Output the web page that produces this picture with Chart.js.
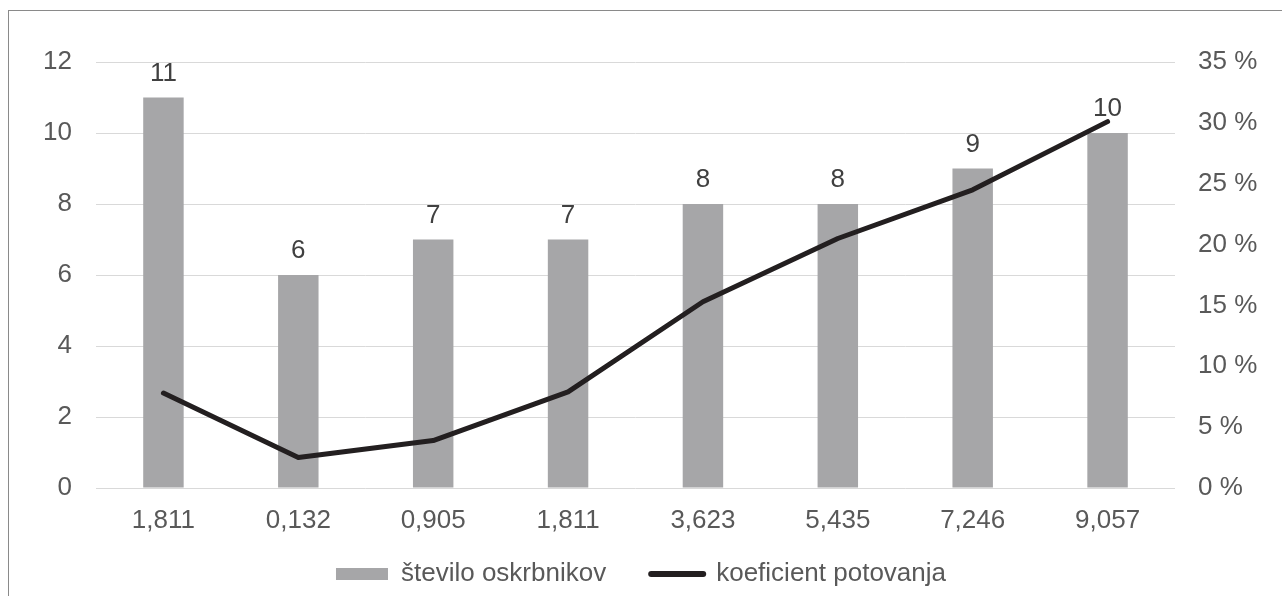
<!DOCTYPE html>
<html>
<head>
<meta charset="utf-8">
<script src="https://cdn.jsdelivr.net/npm/chart.js@4.4.0/dist/chart.umd.min.js"></script>
<style>
    html, body { margin: 0; padding: 0; background: #fff; }
    #wrap { position: relative; width: 1282px; height: 596px; overflow: hidden; }
    #frame { position: absolute; left: 8px; top: 10px; width: 1300px; height: 600px;
             border-left: 1px solid #8a8a8a; border-top: 1px solid #8a8a8a; }
    #chart { position: absolute; left: 0; top: 0; }
</style>
</head>
<body>
<div id="wrap">
    <div id="frame"></div>
    <canvas id="chart" width="1282" height="596"></canvas>
</div>
<script>
const categories = ['1,811', '0,132', '0,905', '1,811', '3,623', '5,435', '7,246', '9,057'];
const steviloOskrbnikov = [11, 6, 7, 7, 8, 8, 9, 10];
const koeficientPotovanja = [7.8, 2.5, 3.9, 7.9, 15.3, 20.5, 24.5, 30.1]; // in %

const FONT = '"Liberation Sans", Arial, sans-serif';

// draws the value above every bar
const barLabels = {
    id: 'barLabels',
    afterDatasetsDraw(chart) {
        const ctx = chart.ctx;
        const meta = chart.getDatasetMeta(0);
        ctx.save();
        ctx.font = '26px ' + FONT;
        ctx.fillStyle = '#404040';
        ctx.textAlign = 'center';
        ctx.textBaseline = 'middle';
        meta.data.forEach((bar, i) => {
            ctx.fillText(steviloOskrbnikov[i], bar.x, bar.y - 24);
        });
        ctx.restore();
    }
};

// the legend needs wide item spacing (padding) but sits close under the axis labels,
// so pull it up a bit after layout
const legendShift = {
    id: 'legendShift',
    afterLayout(chart) {
        if (chart.legend) {
            chart.legend.top -= 22;
            chart.legend.bottom -= 22;
        }
    }
};

const ctx = document.getElementById('chart').getContext('2d');
new Chart(ctx, {
    type: 'bar',
    data: {
        labels: categories,
        datasets: [{
            label: 'število oskrbnikov',
            data: steviloOskrbnikov,
            backgroundColor: '#a6a6a8',
            barPercentage: 0.3,
            categoryPercentage: 1,
            yAxisID: 'y',
            order: 1
        }, {
            type: 'line',
            label: 'koeficient potovanja',
            data: koeficientPotovanja,
            borderColor: '#231f20',
            backgroundColor: '#231f20',
            borderWidth: 5,
            borderCapStyle: 'round',
            borderJoinStyle: 'round',
            pointRadius: 0,
            tension: 0,
            yAxisID: 'y1',
            order: 0
        }]
    },
    options: {
        responsive: false,
        animation: false,
        layout: { padding: { top: 62, left: 0, right: 0, bottom: -23 } },
        scales: {
            x: {
                grid: { display: false },
                border: { display: false },
                ticks: { padding: 9, color: '#595959', font: { family: FONT, size: 26 } },
                afterFit: scale => { scale.height = 50; }
            },
            y: {
                position: 'left',
                min: 0,
                max: 12,
                ticks: { stepSize: 2, padding: 24, color: '#595959', font: { family: FONT, size: 26 } },
                grid: { color: '#d9d9d9', lineWidth: 1, drawTicks: false },
                border: { display: false },
                afterFit: scale => { scale.width = 96; }
            },
            y1: {
                position: 'right',
                min: 0,
                max: 35,
                ticks: {
                    stepSize: 5,
                    padding: 23,
                    color: '#595959',
                    font: { family: FONT, size: 26 },
                    callback: v => v + ' %'
                },
                grid: { drawOnChartArea: false, drawTicks: false },
                border: { display: false },
                afterFit: scale => { scale.width = 107; }
            }
        },
        plugins: {
            tooltip: { enabled: false },
            legend: {
                position: 'bottom',
                labels: {
                    color: '#595959',
                    font: { family: FONT, size: 26 },
                    usePointStyle: true,
                    pointStyleWidth: 52,
                    boxHeight: 12,
                    padding: 45,
                    sort: (a, b) => a.datasetIndex - b.datasetIndex,
                    generateLabels(chart) {
                        const items = Chart.defaults.plugins.legend.labels.generateLabels(chart);
                        items.forEach(item => {
                            if (item.datasetIndex === 0) {
                                item.pointStyle = 'rect';
                                item.lineWidth = 0;
                            } else {
                                item.pointStyle = 'line';
                                item.lineWidth = 6;
                                item.lineCap = 'round';
                                item.strokeStyle = '#231f20';
                            }
                        });
                        return items;
                    }
                }
            }
        }
    },
    plugins: [barLabels, legendShift]
});
</script>
</body>
</html>
